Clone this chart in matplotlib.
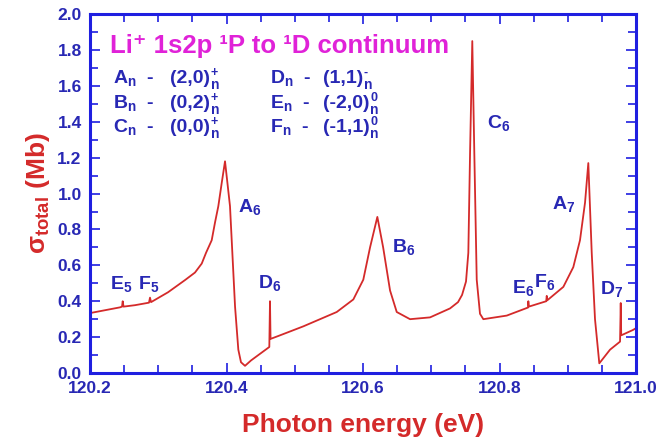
import matplotlib
matplotlib.use("Agg")
import matplotlib.pyplot as plt
from matplotlib.ticker import MultipleLocator

plt.rcParams['font.family'] = ['Liberation Sans', 'DejaVu Sans']
plt.rcParams['mathtext.fontset'] = 'custom'
plt.rcParams['mathtext.rm'] = 'Liberation Sans:bold'
plt.rcParams['mathtext.it'] = 'Liberation Sans:bold'
plt.rcParams['mathtext.bf'] = 'Liberation Sans:bold'
plt.rcParams['mathtext.default'] = 'bf'

# Total photoionization cross section (Mb) vs photon energy (eV)
energy = [
    120.2000, 120.2220, 120.2440, 120.2469, 120.2479, 120.2491, 120.2659, 120.2864,
    120.2879, 120.2894, 120.3143, 120.3392, 120.3538, 120.3637, 120.3700, 120.3783,
    120.3832, 120.3880, 120.3930, 120.3978, 120.4051, 120.4088, 120.4125, 120.4173,
    120.4212, 120.4271, 120.4359, 120.4466, 120.4627, 120.4637, 120.4645, 120.4784,
    120.5125, 120.5370, 120.5615, 120.5858, 120.6004, 120.6103, 120.6210, 120.6295,
    120.6396, 120.6494, 120.6689, 120.6982, 120.7275, 120.7392, 120.7451, 120.7509,
    120.7543, 120.7568, 120.7601, 120.7631, 120.7666, 120.7714, 120.7763, 120.8106,
    120.8418, 120.8422, 120.8430, 120.8684, 120.8692, 120.8699, 120.8935, 120.9081,
    120.9179, 120.9253, 120.9301, 120.9351, 120.9399, 120.9462, 120.9619, 120.9766,
    120.9776, 120.9783, 120.9956, 121.0000,
]
sigma = [
    0.334, 0.350, 0.366, 0.370, 0.400, 0.370, 0.378, 0.392,
    0.420, 0.395, 0.450, 0.518, 0.560, 0.610, 0.670, 0.740,
    0.840, 0.930, 1.060, 1.180, 0.930, 0.650, 0.370, 0.130,
    0.060, 0.040, 0.070, 0.100, 0.145, 0.400, 0.190, 0.210,
    0.260, 0.300, 0.340, 0.410, 0.520, 0.700, 0.870, 0.700,
    0.460, 0.340, 0.300, 0.310, 0.360, 0.395, 0.435, 0.510,
    0.670, 1.220, 1.850, 1.220, 0.520, 0.330, 0.300, 0.320,
    0.365, 0.400, 0.370, 0.400, 0.430, 0.405, 0.480, 0.590,
    0.740, 0.950, 1.170, 0.670, 0.300, 0.054, 0.130, 0.175,
    0.390, 0.210, 0.240, 0.250,
]

# Resonance labels and their positions (eV, Mb)
res_labels = ["A$_6$", "B$_6$", "C$_6$", "A$_7$", "D$_6$", "D$_7$",
              "E$_5$", "F$_5$", "E$_6$", "F$_6$"]
res_x = [120.4168, 120.6425, 120.7817, 120.8769, 120.4462, 120.9473,
         120.2293, 120.2703, 120.8183, 120.8505]
res_y = [0.925, 0.700, 1.395, 0.940, 0.500, 0.470,
         0.495, 0.495, 0.475, 0.510]

# Series classification key: name, (K,T) pair, parity superscript
key_names = ["A$_n$  -", "B$_n$  -", "C$_n$  -", "D$_n$  -", "E$_n$  -", "F$_n$  -"]
key_pairs = ["(2,0)", "(0,2)", "(0,0)", "(1,1)", "(-2,0)", "(-1,1)"]
key_sups = ["+", "+", "+", "-", "0", "0"]
key_col_x = [120.2337, 120.4637]
key_pair_x = [120.3172, 120.5414]
key_rows_y = [1.615, 1.476, 1.342]

blue = "#2828b4"
spine_blue = "#1f1fe0"
red = "#d42a2a"
magenta = "#e022d8"

fig = plt.figure(figsize=(6.58, 4.43), dpi=100)
ax = fig.add_axes([0.1368, 0.158, 0.8298, 0.810])

ax.plot(energy, sigma, color=red, lw=1.3)

ax.set_xlim(120.2, 121.0)
ax.set_ylim(0.0, 2.0)
ax.xaxis.set_major_locator(MultipleLocator(0.2))
ax.xaxis.set_minor_locator(MultipleLocator(0.05))
ax.yaxis.set_major_locator(MultipleLocator(0.2))
ax.yaxis.set_minor_locator(MultipleLocator(0.1))
ax.xaxis.set_major_formatter(plt.FormatStrFormatter('%.1f'))
ax.yaxis.set_major_formatter(plt.FormatStrFormatter('%.1f'))

for s in ax.spines.values():
    s.set_color(spine_blue)
    s.set_linewidth(2.2)
ax.tick_params(which='both', direction='in', top=True, right=True,
               color=spine_blue, width=1.2, labelcolor=blue, labelsize=12.5)
ax.tick_params(which='major', length=7, pad=6)
ax.tick_params(which='minor', length=6)
for lab in ax.get_xticklabels() + ax.get_yticklabels():
    lab.set_fontweight('bold')

ax.set_xlabel("Photon energy (eV)", color=red, fontsize=19, fontweight='bold', labelpad=12)
ax.set_ylabel(r"$\sigma_{total}$ (Mb)", color=red, fontsize=19, fontweight='bold', labelpad=4)

ax.text(120.229, 1.82, "Li\u207a 1s2p \u00b9P to \u00b9D continuum", color=magenta,
        fontsize=18.5, fontweight='bold', va='center', ha='left')

for i in range(6):
    col, row = divmod(i, 3)
    yy = key_rows_y[row]
    ax.text(key_col_x[col], yy, key_names[i], color=blue, fontsize=14,
            fontweight='bold', va='baseline')
    pair = ax.text(key_pair_x[col], yy, key_pairs[i], color=blue, fontsize=14,
                   fontweight='bold', va='baseline')
    ax.annotate(key_sups[i], xy=(1, 0.55), xycoords=pair, xytext=(0.5, 3.5),
                textcoords='offset points', color=blue, fontsize=9,
                fontweight='bold', va='center', ha='left')
    ax.annotate("n", xy=(1, 0.55), xycoords=pair, xytext=(0.5, -5),
                textcoords='offset points', color=blue, fontsize=10,
                fontweight='bold', va='center', ha='left')

for t, xx, yy in zip(res_labels, res_x, res_y):
    ax.text(xx, yy, t, color=blue, fontsize=14, fontweight='bold',
            ha='left', va='center')

fig.savefig("out.png", dpi=100)
